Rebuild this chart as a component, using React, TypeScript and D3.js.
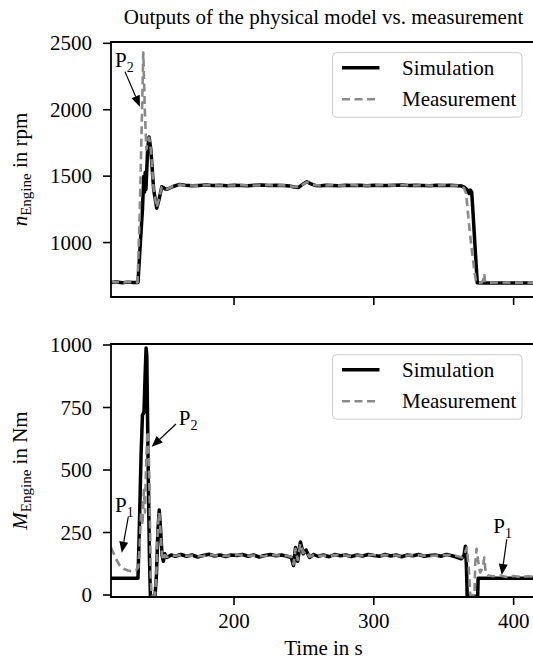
import React from "react";
import * as d3 from "d3";

// ---------- data ----------
const xTicks = [200, 300, 400];
const speedTicks = [1000, 1500, 2000, 2500];
const torqueTicks = [0, 250, 500, 750, 1000];

// Engine speed, simulation
const simSpeedT = [112, 116, 120, 124, 128, 131.3, 133, 134.5, 135.5, 136, 136.5, 137, 138.2, 139.2, 140.5, 142.5, 144.7, 146.5, 148.3, 150, 151.3, 153, 156, 161, 165, 170, 175, 180, 185, 190, 195, 200, 205, 210, 215, 220, 225, 230, 235, 240, 243, 246, 249, 252, 255, 258, 262, 266, 270, 275, 280, 285, 290, 295, 300, 305, 310, 315, 320, 325, 330, 335, 340, 345, 350, 355, 360, 362.9, 365, 367, 368.2, 369, 370, 370.8, 372.5, 374, 380, 390, 400, 416];
const simSpeedV = [700, 703, 698, 702, 700, 700, 1000, 1250, 1500, 1380, 1530, 1400, 1700, 1795, 1700, 1400, 1258, 1330, 1420, 1410, 1400, 1405, 1420, 1438, 1432, 1428, 1430, 1433, 1429, 1431, 1428, 1432, 1430, 1427, 1431, 1433, 1429, 1431, 1430, 1425, 1418, 1414, 1438, 1458, 1442, 1430, 1428, 1432, 1430, 1428, 1432, 1430, 1431, 1428, 1432, 1430, 1429, 1431, 1433, 1429, 1431, 1430, 1428, 1432, 1430, 1431, 1428, 1425, 1415, 1395, 1370, 1395, 1380, 1250, 950, 697, 695, 696, 695, 695];

// Engine speed, measurement
const measSpeedT = [112, 115, 118, 121, 124, 127, 131, 132.5, 134, 135.1, 136.2, 137.3, 138.3, 139.2, 140.5, 142.5, 144.7, 146.5, 148.3, 150, 151.3, 153, 156, 161, 165, 170, 175, 180, 185, 190, 195, 200, 205, 210, 215, 220, 225, 230, 235, 240, 243, 246, 249, 252, 255, 258, 262, 266, 270, 275, 280, 285, 290, 295, 300, 305, 310, 315, 320, 325, 330, 335, 340, 345, 350, 355, 360, 362.9, 364.5, 366, 368, 370, 372, 373.2, 375, 377.5, 378.5, 379, 379.5, 381, 390, 400, 416];
const measSpeedV = [705, 700, 704, 699, 703, 700, 700, 1200, 1900, 2430, 2000, 1700, 1760, 1790, 1700, 1400, 1262, 1335, 1418, 1412, 1402, 1407, 1422, 1436, 1430, 1430, 1428, 1431, 1431, 1429, 1430, 1430, 1432, 1429, 1429, 1431, 1431, 1429, 1432, 1423, 1420, 1416, 1436, 1455, 1444, 1432, 1430, 1430, 1432, 1430, 1430, 1432, 1429, 1430, 1430, 1432, 1431, 1429, 1431, 1431, 1429, 1432, 1430, 1430, 1432, 1429, 1430, 1422, 1410, 1370, 1150, 950, 780, 700, 698, 700, 730, 765, 710, 698, 699, 698, 698];

// Engine torque, simulation
const simTorqueT = [112, 120, 128, 131.3, 132.2, 133.5, 134.5, 135.6, 136.4, 137.1, 137.6, 138.5, 139.5, 140.2, 143.5, 144.5, 145.5, 146.5, 147.5, 148.5, 149.5, 150.5, 152, 155, 158, 162, 166, 170, 174, 178, 182, 186, 190, 194, 198, 202, 206, 210, 214, 218, 222, 226, 230, 234, 238, 241, 242.5, 244, 245.5, 247.5, 249.5, 251.5, 254, 257, 260, 264, 268, 272, 276, 280, 284, 288, 292, 296, 300, 304, 308, 312, 316, 320, 324, 328, 332, 336, 340, 344, 348, 352, 356, 360, 362.5, 364.5, 365.5, 366.2, 366.8, 374.3, 374.6, 380, 390, 400, 416];
const simTorqueV = [67, 67, 67, 67, 250, 560, 720, 730, 880, 988, 960, 550, 150, -5, -5, 80, 250, 340, 260, 160, 135, 165, 150, 160, 155, 162, 155, 160, 152, 158, 163, 156, 160, 154, 160, 158, 162, 155, 160, 152, 158, 162, 157, 160, 155, 150, 118, 190, 135, 212, 165, 180, 150, 162, 155, 160, 153, 162, 157, 160, 154, 160, 156, 162, 158, 155, 162, 156, 160, 153, 160, 157, 162, 155, 158, 160, 155, 162, 157, 150, 145, 158, 195, 120, -5, -5, 67, 67, 67, 67, 67];

// Engine torque, measurement
const measTorqueT = [112, 114, 116, 118, 121, 124, 127, 130, 131.5, 132.5, 133.5, 134.5, 135.5, 136.3, 137, 138, 138.8, 139.6, 140.4, 141, 143.5, 144.5, 145.5, 146.5, 147.5, 148.5, 149.5, 150.5, 152, 155, 158, 162, 166, 170, 174, 178, 182, 186, 190, 194, 198, 202, 206, 210, 214, 218, 222, 226, 230, 234, 238, 241, 242.5, 244, 245.5, 247.5, 249.5, 251.5, 254, 257, 260, 264, 268, 272, 276, 280, 284, 288, 292, 296, 300, 304, 308, 312, 316, 320, 324, 328, 332, 336, 340, 344, 348, 352, 356, 360, 363, 365, 366.5, 368, 369, 372, 372.5, 373.5, 374.5, 376, 378, 379, 380, 382, 385, 390, 395, 400, 405, 410, 416];
const measTorqueV = [190, 165, 140, 120, 105, 98, 95, 100, 110, 200, 330, 280, 420, 330, 500, 655, 640, 400, 80, -3, -3, 100, 270, 330, 250, 160, 138, 160, 152, 158, 157, 160, 157, 158, 155, 156, 161, 158, 158, 156, 158, 160, 160, 157, 158, 155, 156, 160, 159, 158, 157, 152, 122, 185, 140, 205, 168, 176, 153, 160, 157, 158, 155, 160, 159, 158, 156, 158, 158, 160, 160, 157, 160, 158, 158, 155, 158, 159, 160, 157, 156, 158, 157, 160, 159, 155, 150, 165, 190, 100, 0, -3, 120, 185, 140, 90, 110, 150, 90, 78, 75, 78, 72, 76, 72, 75, 73];

// ---------- layout ----------
const W = 533;
const H = 666;
const FONT = "'Liberation Serif', 'Times New Roman', serif";
const FS = 21;
const LEFT = 111;
const RIGHT = 536;
const SIM_COLOR = "#000000";
const MEAS_COLOR = "#8a8a8a";

const x = d3.scaleLinear().domain([112, 416]).range([LEFT, RIGHT]);
const ySpeed = d3.scaleLinear().domain([590, 2510]).range([297, 42]);
const yTorque = d3.scaleLinear().domain([-8, 1004]).range([597, 344]);

type Ann = { label: string; sub: string; tx: number; ty: number; sx: number; sy: number; ex: number; ey: number };

const speedAnn: Ann[] = [
  { label: "P", sub: "2", tx: 114.9, ty: 2324, sx: 122, sy: 2287, ex: 132.7, ey: 2023 },
];
const torqueAnn: Ann[] = [
  { label: "P", sub: "2", tx: 160.5, ty: 680, sx: 158.5, sy: 684, ex: 141.1, ey: 593 },
  { label: "P", sub: "1", tx: 114.9, ty: 333, sx: 124.4, sy: 313, ex: 119.7, ey: 169 },
  { label: "P", sub: "1", tx: 385.5, ty: 248, sx: 395.1, sy: 223, ex: 391.5, ey: 80 },
];

function Arrow({ x1, y1, x2, y2 }: { x1: number; y1: number; x2: number; y2: number }) {
  const dx = x2 - x1;
  const dy = y2 - y1;
  const len = Math.hypot(dx, dy);
  const ux = dx / len;
  const uy = dy / len;
  const hl = 11;
  const hw = 4.5;
  const bx = x2 - ux * hl;
  const by = y2 - uy * hl;
  const pts = [
    [x2, y2],
    [bx - uy * hw, by + ux * hw],
    [bx + uy * hw, by - ux * hw],
  ];
  return (
    <g>
      <line x1={x1} y1={y1} x2={bx} y2={by} stroke="#000" strokeWidth={1.2} />
      <polygon points={pts.map((p) => p.join(",")).join(" ")} fill="#000" />
    </g>
  );
}

type PanelProps = {
  id: string;
  y: d3.ScaleLinear<number, number>;
  yTicks: number[];
  simT: number[];
  simV: number[];
  measT: number[];
  measV: number[];
  showXLabels: boolean;
  ann: Ann[];
  yLabelMain: string;
  yLabelUnit: string;
};

function Panel(p: PanelProps) {
  const [y0, y1] = p.y.range();
  const top = Math.min(y0, y1);
  const bottom = Math.max(y0, y1);
  const line = d3
    .line<[number, number]>()
    .x((d) => x(d[0]))
    .y((d) => p.y(d[1]));
  const simPts = p.simT.map((t, i) => [t, p.simV[i]] as [number, number]);
  const measPts = p.measT.map((t, i) => [t, p.measV[i]] as [number, number]);
  const midY = (top + bottom) / 2;
  const legTop = top + 10.7;
  const legRight = RIGHT - 14;
  const legLeft = legRight - 189.5;
  return (
    <g>
      <defs>
        <clipPath id={`clip-${p.id}`}>
          <rect x={LEFT} y={top} width={RIGHT - LEFT} height={bottom - top} />
        </clipPath>
      </defs>
      <g clipPath={`url(#clip-${p.id})`}>
        <path d={line(simPts) || ""} fill="none" stroke={SIM_COLOR} strokeWidth={3.5} strokeLinejoin="round" />
        <path d={line(measPts) || ""} fill="none" stroke={MEAS_COLOR} strokeWidth={2.6} strokeDasharray="8,4.5" strokeLinejoin="round" />
      </g>
      {/* spines */}
      <line x1={LEFT} y1={top} x2={LEFT} y2={bottom} stroke="#000" strokeWidth={1.8} />
      <line x1={LEFT - 0.9} y1={top} x2={RIGHT} y2={top} stroke="#000" strokeWidth={1.8} />
      <line x1={LEFT - 0.9} y1={bottom} x2={RIGHT} y2={bottom} stroke="#000" strokeWidth={1.8} />
      <line x1={RIGHT} y1={top} x2={RIGHT} y2={bottom} stroke="#000" strokeWidth={1.8} />
      {/* y ticks */}
      {p.yTicks.map((v) => (
        <g key={`y${v}`}>
          <line x1={LEFT - 8} y1={p.y(v)} x2={LEFT} y2={p.y(v)} stroke="#000" strokeWidth={1.6} />
          <text x={LEFT - 19} y={p.y(v)} dy="0.34em" textAnchor="end" fontFamily={FONT} fontSize={FS}>
            {v}
          </text>
        </g>
      ))}
      {/* x ticks */}
      {xTicks.map((t) => (
        <g key={`x${t}`}>
          <line x1={x(t)} y1={bottom} x2={x(t)} y2={bottom + 8} stroke="#000" strokeWidth={1.6} />
          {p.showXLabels && (
            <text x={x(t)} y={bottom + 31} textAnchor="middle" fontFamily={FONT} fontSize={FS}>
              {t}
            </text>
          )}
        </g>
      ))}
      {/* y label */}
      <text transform={`translate(27,${midY}) rotate(-90)`} textAnchor="middle" fontFamily={FONT} fontSize={FS}>
        <tspan fontStyle="italic">{p.yLabelMain}</tspan>
        <tspan fontSize={15} dy={4}>Engine</tspan>
        <tspan dy={-4}>{` in ${p.yLabelUnit}`}</tspan>
      </text>
      {/* legend */}
      <rect x={legLeft} y={legTop} width={legRight - legLeft} height={64.5} rx={4} ry={4} fill="#fff" fillOpacity={0.85} stroke="#cccccc" strokeWidth={1} />
      <line x1={legLeft + 9.5} y1={legTop + 15} x2={legLeft + 47} y2={legTop + 15} stroke={SIM_COLOR} strokeWidth={3.5} />
      <text x={legLeft + 69.5} y={legTop + 22} fontFamily={FONT} fontSize={FS}>Simulation</text>
      <line x1={legLeft + 9.5} y1={legTop + 46.5} x2={legLeft + 47} y2={legTop + 46.5} stroke={MEAS_COLOR} strokeWidth={2.6} strokeDasharray="8,4.5" />
      <text x={legLeft + 69.5} y={legTop + 53.5} fontFamily={FONT} fontSize={FS}>Measurement</text>
      {/* annotations */}
      {p.ann.map((a, i) => (
        <g key={`a${i}`}>
          <text x={x(a.tx)} y={p.y(a.ty)} fontFamily={FONT} fontSize={FS}>
            {a.label}
            <tspan fontSize={14} dy={5}>{a.sub}</tspan>
          </text>
          <Arrow x1={x(a.sx)} y1={p.y(a.sy)} x2={x(a.ex)} y2={p.y(a.ey)} />
        </g>
      ))}
    </g>
  );
}

export default function App() {
  return (
    <svg width={W} height={H} style={{ position: "absolute", left: 0, top: 0, background: "#fff" }}>
      <rect x={0} y={0} width={W} height={H} fill="#fff" />
      <text x={(LEFT + RIGHT) / 2} y={24} textAnchor="middle" fontFamily={FONT} fontSize={FS}>
        Outputs of the physical model vs. measurement
      </text>
      <Panel
        id="speed"
        y={ySpeed}
        yTicks={speedTicks}
        simT={simSpeedT}
        simV={simSpeedV}
        measT={measSpeedT}
        measV={measSpeedV}
        showXLabels={false}
        ann={speedAnn}
        yLabelMain="n"
        yLabelUnit="rpm"
      />
      <Panel
        id="torque"
        y={yTorque}
        yTicks={torqueTicks}
        simT={simTorqueT}
        simV={simTorqueV}
        measT={measTorqueT}
        measV={measTorqueV}
        showXLabels={true}
        ann={torqueAnn}
        yLabelMain="M"
        yLabelUnit="Nm"
      />
      <text x={(LEFT + RIGHT) / 2} y={655} textAnchor="middle" fontFamily={FONT} fontSize={FS}>
        Time in s
      </text>
    </svg>
  );
}
